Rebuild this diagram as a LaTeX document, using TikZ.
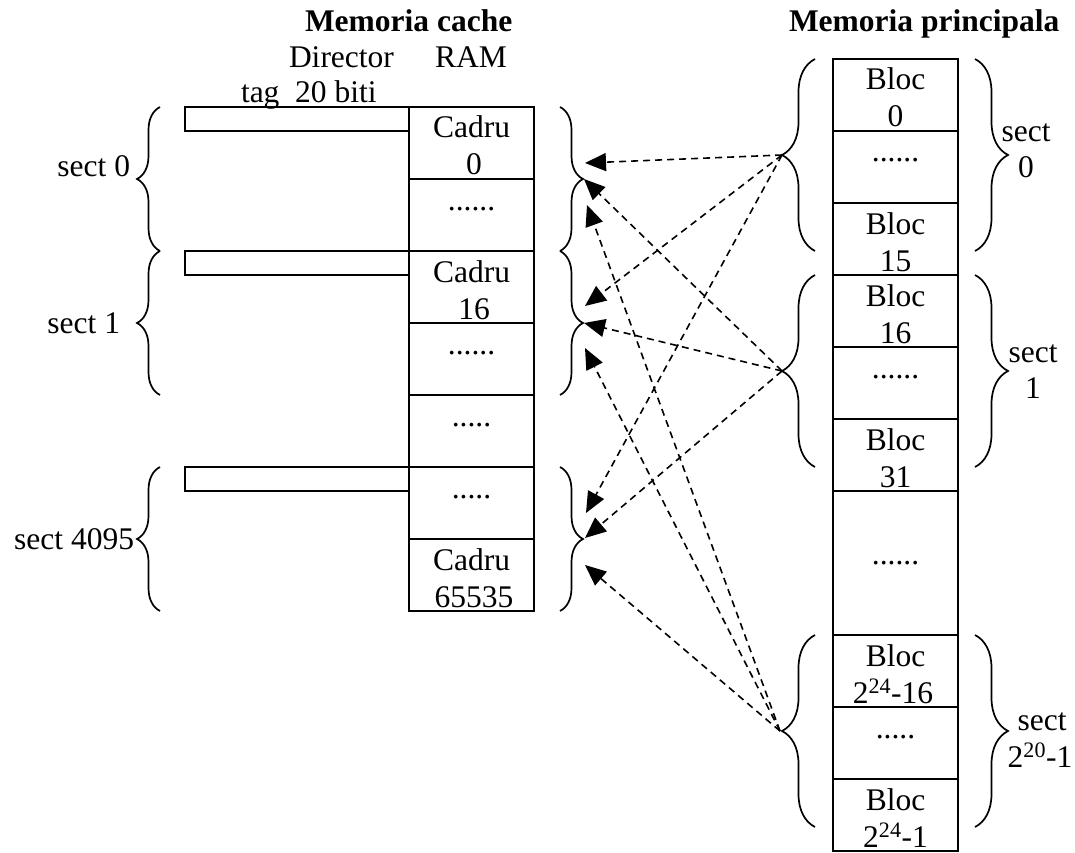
\documentclass[tikz,border=0pt]{standalone}
\usepackage{fontspec}
\setmainfont{Liberation Serif}
\usetikzlibrary{arrows.meta,decorations.pathreplacing}

\begin{document}
\begin{tikzpicture}[x=1pt,y=-1pt,
  every node/.style={font=\fontsize{31.5}{36}\selectfont, inner sep=0pt, outer sep=0pt},
  cellbox/.style={draw, line width=1.7pt, minimum width=125pt, minimum height=#1, anchor=north west},
  cellbox/.default=72pt,
  tagbar/.style={draw, line width=1.7pt, minimum width=224pt, minimum height=24pt, anchor=north west},
  txt/.style={anchor=base},
  title/.style={anchor=base west, font=\fontsize{31.5}{36}\selectfont\bfseries},
  bracedec/.style={decorate, decoration={brace, amplitude=#1}, line width=1.7pt},
  conn/.style={line width=1.6pt, dash pattern=on 7pt off 5pt,
               -{Triangle[length=21pt,width=18pt]}}
]
\useasboundingbox (0,0) rectangle (1075,853);

% ---------- headings ----------
\node[title] (tcache) at (305,32) {Memoria cache};
\node[title] (tmain) at (789,32) {Memoria principala};
\node[txt, anchor=base west] (hdir) at (289,68) {Director};
\node[txt, anchor=base west] (hram) at (435,68) {RAM};
\node[txt, anchor=base west] (htag) at (241,103) {tag\ \ 20 biti};

% ---------- cache RAM column ----------
\node[cellbox] (c1) at (409,107) {};
\node[cellbox] (c2) at (409,179) {};
\node[cellbox] (c3) at (409,251) {};
\node[cellbox] (c4) at (409,323) {};
\node[cellbox] (c5) at (409,395) {};
\node[cellbox] (c6) at (409,467) {};
\node[cellbox] (c7) at (409,539) {};

\node[txt] (c1a) at (471.5,138) {Cadru};
\node[txt] (c1b) at (474,175) {0};
\node[txt] (c2a) at (471.5,210) {......};
\node[txt] (c3a) at (471.5,282) {Cadru};
\node[txt] (c3b) at (474,319) {16};
\node[txt] (c4a) at (471.5,354) {......};
\node[txt] (c5a) at (471.5,426) {.....};
\node[txt] (c6a) at (471.5,498) {.....};
\node[txt] (c7a) at (471.5,570) {Cadru};
\node[txt] (c7b) at (474,607) {65535};

% ---------- directory tag entries ----------
\node[tagbar] (d0) at (185,107) {};
\node[tagbar] (d1) at (185,251) {};
\node[tagbar] (d2) at (185,467) {};

% ---------- cache sector braces ----------
\draw[bracedec=23pt] (160,251) -- (160,107);
\draw[bracedec=23pt] (160,395) -- (160,251);
\draw[bracedec=23pt] (160,611) -- (160,467);
\draw[bracedec=23pt] (560,107) -- (560,251);
\draw[bracedec=23pt] (560,251) -- (560,395);
\draw[bracedec=23pt] (560,467) -- (560,611);

\node[anchor=base east] (ls0) at (130,177) {sect 0};
\node[anchor=base east] (ls1) at (120,333) {sect 1};
\node[anchor=base east] (ls2) at (134,549) {sect 4095};

% ---------- main memory column ----------
\node[cellbox] (m1) at (833,59) {};
\node[cellbox] (m2) at (833,131) {};
\node[cellbox] (m3) at (833,203) {};
\node[cellbox] (m4) at (833,275) {};
\node[cellbox] (m5) at (833,347) {};
\node[cellbox] (m6) at (833,419) {};
\node[cellbox=144pt] (m7) at (833,491) {};
\node[cellbox] (m8) at (833,635) {};
\node[cellbox] (m9) at (833,707) {};
\node[cellbox] (m10) at (833,779) {};

\node[txt] (m1a) at (895.5,90) {Bloc};
\node[txt] (m1b) at (895.5,127) {0};
\node[txt] (m2a) at (895.5,162) {......};
\node[txt] (m3a) at (895.5,234) {Bloc};
\node[txt] (m3b) at (895.5,271) {15};
\node[txt] (m4a) at (895.5,306) {Bloc};
\node[txt] (m4b) at (895.5,343) {16};
\node[txt] (m5a) at (895.5,378) {......};
\node[txt] (m6a) at (895.5,450) {Bloc};
\node[txt] (m6b) at (895.5,487) {31};
\node[txt] (m7a) at (895.5,564) {......};
\node[txt] (m8a) at (895.5,666) {Bloc};
\node[txt] (m8b) at (893,703) {2\textsuperscript{24}-16};
\node[txt] (m9a) at (895.5,738) {.....};
\node[txt] (m10a) at (895.5,810) {Bloc};
\node[txt] (m10b) at (895.5,847) {2\textsuperscript{24}-1};

% ---------- main memory sector braces ----------
\draw[bracedec=33pt] (815,251) -- (815,59);
\draw[bracedec=33pt] (815,467) -- (815,275);
\draw[bracedec=33pt] (815,827) -- (815,635);
\draw[bracedec=33pt] (975,59) -- (975,251);
\draw[bracedec=33pt] (975,275) -- (975,467);
\draw[bracedec=33pt] (975,635) -- (975,827);

\node[txt] (rs0a) at (1026,142) {sect};
\node[txt] (rs0b) at (1026,178) {0};
\node[txt] (rs1a) at (1033,362) {sect};
\node[txt] (rs1b) at (1033,398) {1};
\node[txt] (rs2a) at (1042,730) {sect};
\node[txt] (rs2b) at (1040,767) {2\textsuperscript{20}-1};

% ---------- mapping of main memory sectors onto cache sectors ----------
\coordinate (s0) at (782,155);
\coordinate (s1) at (782,371);
\coordinate (s2) at (780,731);

\coordinate (t00) at (585,163);
\coordinate (t01) at (585,306);
\coordinate (t02) at (586,513);
\coordinate (t10) at (584,179);
\coordinate (t11) at (584,323);
\coordinate (t12) at (585,538);
\coordinate (t20) at (587,205);
\coordinate (t21) at (585,348);
\coordinate (t22) at (585,565);

\draw[conn] (s0) -- (t00);
\draw[conn] (s0) -- (t01);
\draw[conn] (s0) -- (t02);
\draw[conn] (s1) -- (t10);
\draw[conn] (s1) -- (t11);
\draw[conn] (s1) -- (t12);
\draw[conn] (s2) -- (t20);
\draw[conn] (s2) -- (t21);
\draw[conn] (s2) -- (t22);
\end{tikzpicture}
\end{document}
